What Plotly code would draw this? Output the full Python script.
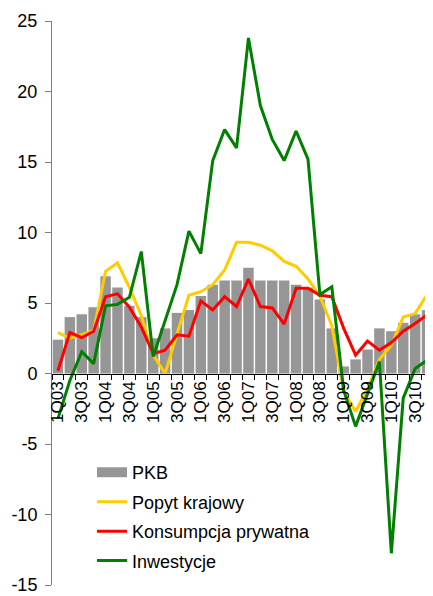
import plotly.graph_objects as go

quarters = [f"{q}Q{y:02d}" for y in range(3, 11) for q in range(1, 5)]

pkb = [2.4, 4.0, 4.2, 4.7, 6.9, 6.1, 4.8, 4.0,
       2.5, 3.2, 4.3, 4.5, 5.5, 6.3, 6.6, 6.6,
       7.5, 6.6, 6.6, 6.6, 6.3, 6.1, 5.25, 3.2,
       0.5, 1.0, 1.7, 3.2, 3.0, 3.6, 4.2, 4.5]

popyt = [2.9, 2.5, 2.75, 3.05, 7.25, 7.85, 6.1, 4.1,
         1.3, 0.0, 2.8, 5.55, 5.8, 6.3, 7.35, 9.3,
         9.3, 9.1, 8.7, 7.95, 7.6, 6.7, 5.5, 3.4,
         -1.3, -2.7, -1.1, 1.0, 2.0, 4.0, 4.25, 5.6]

konsumpcja = [0.2, 2.9, 2.55, 3.0, 5.45, 5.65, 4.7, 3.3,
              1.4, 1.65, 2.75, 2.65, 5.15, 4.5, 5.45, 4.75,
              6.7, 4.75, 4.65, 3.5, 6.05, 6.05, 5.55, 5.45,
              3.2, 1.3, 2.3, 1.65, 2.2, 3.0, 3.55, 4.15]

inwestycje = [-3.2, -0.5, 1.55, 0.7, 4.8, 4.9, 5.4, 8.65,
              1.2, 3.8, 6.3, 10.1, 8.5, 15.1, 17.3, 16.0,
              23.8, 19.0, 16.6, 15.1, 17.2, 15.2, 5.6, 6.15,
              -1.2, -3.75, -1.4, 0.85, -12.75, -1.75, 0.35, 0.95]

x_ticktext = [q if q[0] in "13" else "" for q in quarters]
y_tickvals = [-15, -10, -5, 0, 5, 10, 15, 20, 25]
y_ticktext = ["-15", "-10", "-5", "0", "5", "10", "15", "20", "25"]

FONT = "Liberation Sans, Arial, sans-serif"
GRAY = "#969696"

fig = go.Figure()
fig.add_trace(go.Bar(x=quarters, y=pkb, name="PKB", marker=dict(color=GRAY, line=dict(width=0)),
                     showlegend=False))
# legend entry for PKB drawn as a wide gray rectangle
fig.add_trace(go.Scatter(x=[None], y=[None], mode="lines", name="PKB",
                         line=dict(color=GRAY, width=12), legendgroup="a"))
fig.add_trace(go.Scatter(x=quarters, y=popyt, mode="lines", name="Popyt krajowy",
                         line=dict(color="#FFCC00", width=3), legendgroup="b"))
fig.add_trace(go.Scatter(x=quarters, y=konsumpcja, mode="lines", name="Konsumpcja prywatna",
                         line=dict(color="#FF0000", width=3), legendgroup="c"))
fig.add_trace(go.Scatter(x=quarters, y=inwestycje, mode="lines", name="Inwestycje",
                         line=dict(color="#008000", width=3), legendgroup="d"))

fig.update_layout(
    width=425, height=588,
    margin=dict(l=44, r=0, t=13, b=11, autoexpand=False),
    paper_bgcolor="white", plot_bgcolor="white",
    font=dict(family=FONT, size=18, color="black"),
    bargap=0.12,
    legend=dict(x=0.105, y=0.232, xanchor="left", yanchor="top",
                bgcolor="rgba(0,0,0,0)", font=dict(size=18, color="black"),
                tracegroupgap=3, traceorder="grouped"),
    xaxis=dict(type="category", tickmode="array", tickvals=quarters, ticktext=x_ticktext,
               tickangle=-90, tickson="boundaries", ticks="outside", ticklen=5,
               tickcolor="black", tickwidth=1, showline=True, linecolor="black", linewidth=1,
               anchor="free", position=15 / 40, showgrid=False, zeroline=False,
               tickfont=dict(size=17, color="black"), range=[-0.5, 31.5], automargin=False),
    yaxis=dict(range=[-15, 25], tickmode="array", tickvals=y_tickvals, ticktext=y_ticktext,
               ticks="outside", ticklen=6, tickcolor="#808080", showline=True,
               linecolor="#808080", linewidth=1, showgrid=False, zeroline=False,
               tickfont=dict(size=18, color="black"), ticklabelstandoff=4, automargin=False,
               ticklabeloverflow="allow"),
)

fig.write_html("out.html")
